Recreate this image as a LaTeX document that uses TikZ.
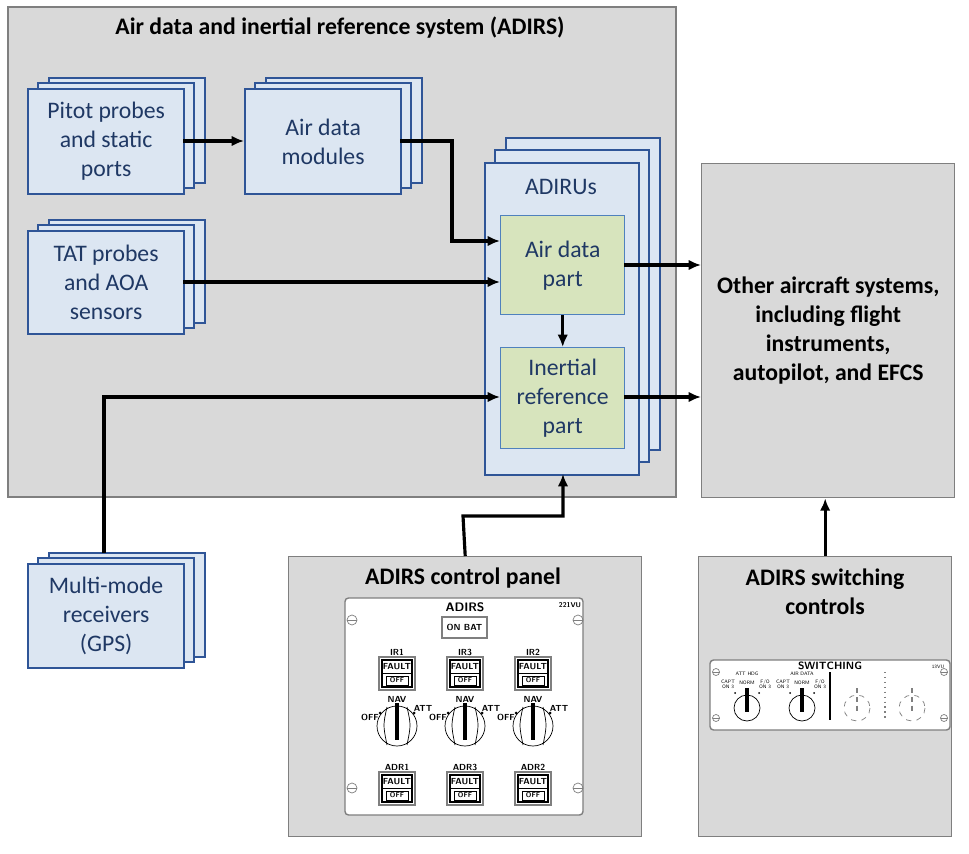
\documentclass[tikz,border=0pt]{standalone}
\usepackage{fontspec}
\setmainfont{Carlito}
\usetikzlibrary{arrows.meta,calc}
\definecolor{grayfill}{HTML}{D9D9D9}
\definecolor{grayline}{HTML}{7F7F7F}
\definecolor{bluefill}{HTML}{DCE6F2}
\definecolor{blueline}{HTML}{2F5597}
\definecolor{bluetext}{HTML}{1F3864}
\definecolor{greenfill}{HTML}{D7E4BD}
\definecolor{greenline}{HTML}{4F81BD}
\begin{document}
\begin{tikzpicture}[x=0.02cm,y=-0.02cm,
  graybox/.style={draw=grayline,fill=grayfill,line width=0.8pt},
  bluebox/.style={draw=blueline,fill=bluefill,line width=1.3pt},
  btxt/.style={text=bluetext,font=\fontsize{13.5}{16.5}\selectfont,align=center},
  greenbox/.style={draw=greenline,fill=greenfill,line width=0.8pt},
  ttl/.style={font=\bfseries\fontsize{13.5}{16.5}\selectfont,align=center},
  arr/.style={line width=1.8pt,-{Latex[length=7pt,width=6pt]}},
  pnl/.style={font=\sffamily\bfseries\fontsize{4}{4}\selectfont,inner sep=0pt},
  tny/.style={font=\sffamily\fontsize{2.8}{3}\selectfont,inner sep=0pt,align=center},
  plate/.style={draw=grayline,fill=white,line width=0.8pt}]
\useasboundingbox (0,0) rectangle (969,854);
\fill[white] (0,0) rectangle (969,854);
% ADIRS outer
\draw[graybox] (8,7) rectangle (676,497);
\node[ttl] (adirst) at (340,28) {Air data and inertial reference system (ADIRS)};
% stacks
\foreach \x/\y/\w/\h in {27/88/156/105, 244/88/156/105, 27/230/156/103}{
  \draw[bluebox] (\x+22,\y-10) rectangle ++(\w,\h);
  \draw[bluebox] (\x+11,\y-5) rectangle ++(\w,\h);
}
\draw[bluebox] (27,563) ++(22,-10) rectangle ++(156,104);
\draw[bluebox] (27,563) ++(11,-5) rectangle ++(156,104);
\node[bluebox,btxt,minimum width=156*0.02cm,minimum height=105*0.02cm,anchor=north west] (pitot) at (27,88) {Pitot probes\\and static\\ports};
\node[bluebox,btxt,minimum width=156*0.02cm,minimum height=105*0.02cm,anchor=north west] (adm) at (244,88) {Air data\\modules};
\node[bluebox,btxt,minimum width=156*0.02cm,minimum height=103*0.02cm,anchor=north west] (tat) at (27,230) {TAT probes\\and AOA\\sensors};
\node[bluebox,btxt,minimum width=156*0.02cm,minimum height=104*0.02cm,anchor=north west] (mmr) at (27,563) {Multi-mode\\receivers\\(GPS)};
% ADIRUs
\draw[bluebox] (506,138) rectangle (660,450);
\draw[bluebox] (495,150) rectangle (649,462);
\node[bluebox,minimum width=154*0.02cm,minimum height=312*0.02cm,anchor=north west] (adiru) at (484,162) {};
\node[btxt] (adirut) at (561,187) {ADIRUs};
\node[greenbox,btxt,minimum width=124*0.02cm,minimum height=99*0.02cm,anchor=north west] (adp) at (500,215) {Air data\\part};
\node[greenbox,btxt,minimum width=124*0.02cm,minimum height=101*0.02cm,anchor=north west] (irp) at (500,347) {Inertial\\reference\\part};
% other systems
\node[graybox,ttl,minimum width=253*0.02cm,minimum height=334*0.02cm,anchor=north west] (other) at (701,163) {Other aircraft systems,\\including flight\\instruments,\\autopilot, and EFCS};
% panels
\node[graybox,minimum width=353*0.02cm,minimum height=280*0.02cm,anchor=north west] (cp) at (288,556) {};
\node[ttl] (cpt) at (463,578) {ADIRS control panel};
\node[graybox,minimum width=253*0.02cm,minimum height=280*0.02cm,anchor=north west] (sw) at (698,556) {};
\node[ttl] (swt) at (825,592) {ADIRS switching\\controls};
% arrows
\coordinate (a1) at (183,141);
\coordinate (a2) at (400,141);
\coordinate (a3) at (183,282);
\draw[arr] (a1) -- (a1 -| adm.west);
\draw[arr] (a2) -- (452,141) -- (452,241) -- (500,241);
\draw[arr] (a3) -- (a3 -| adp.west);
\draw[arr] (adp.south) -- (irp.north);
\draw[arr] (624,265) -- (701,265);
\draw[arr] (624,397) -- (701,397);
\draw[arr] (104,553) -- (104,397) -- (500,397);
\draw[arr] (cp.north) -- (463,516) -- (563,516) -- (563,474);
\draw[arr] (sw.north) -- (other.south -| sw.north);
% control panel drawing
\draw[plate,rounded corners=2pt] (345,598) rectangle (583,815);
\foreach \px/\py in {352/620,352/788,578/620,578/788}{
  \draw[grayline,line width=0.4pt] (\px,\py) circle (5);
  \draw[grayline,line width=0.4pt] (\px-5,\py) -- (\px+5,\py);}
\node[pnl,font=\sffamily\bfseries\fontsize{7}{7}\selectfont] (pa) at (465,607) {ADIRS};
\node[pnl] (pv) at (570,605) {221VU};
\draw[grayline,line width=1.2pt] (442,617) rectangle (487,638);
\node[pnl,font=\sffamily\bfseries\fontsize{5}{5}\selectfont] (pb) at (464.5,627.5) {ON BAT};
\foreach \cx/\ir/\adr in {397/IR1/ADR1,465/IR3/ADR3,533/IR2/ADR2}{
  \node[pnl,font=\sffamily\bfseries\fontsize{5}{5}\selectfont] at (\cx,652) {\ir};
  \node[pnl,font=\sffamily\bfseries\fontsize{5}{5}\selectfont] at (\cx,767) {\adr};
  \foreach \by in {657,772}{
    \draw[grayline,line width=1pt] (\cx-18,\by) rectangle (\cx+18,\by+33);
    \draw[black,line width=0.6pt] (\cx-15,\by+3) rectangle (\cx+15,\by+30);
    \draw[black,line width=0.5pt] (\cx-15,\by+16) -- (\cx+15,\by+16);
    \draw[black,line width=0.4pt] (\cx-11,\by+19) rectangle (\cx+11,\by+28);
    \node[pnl,font=\sffamily\bfseries\fontsize{5}{5}\selectfont] at (\cx,\by+10) {FAULT};
    \node[pnl] at (\cx,\by+23.5) {OFF};}
  \draw[line width=0.4pt] (\cx,726) circle (20);
  \draw[line width=0.4pt] (\cx-10,745) .. controls (\cx-14,725) .. (\cx-10,707);
  \draw[line width=0.4pt] (\cx+10,745) .. controls (\cx+14,725) .. (\cx+10,707);
  \draw[line width=2.5pt] (\cx,703) -- (\cx,740);
  \fill (\cx-17,713) circle (1.5) (\cx+17,713) circle (1.5);
  \node[pnl,font=\sffamily\bfseries\fontsize{5}{5}\selectfont] at (\cx,699) {NAV};
  \node[pnl,font=\sffamily\bfseries\fontsize{5}{5}\selectfont] at (\cx-27,717) {OFF};
  \node[pnl,font=\sffamily\bfseries\fontsize{5}{5}\selectfont] at (\cx+26,708) {ATT};
}
% switching drawing
\draw[plate,rounded corners=2pt] (710,660) rectangle (950,730);
\foreach \px/\py in {716/672,716/718,944/672,944/718}{
  \draw[grayline,line width=0.4pt] (\px,\py) circle (3.5);
  \draw[grayline,line width=0.4pt] (\px-3.5,\py) -- (\px+3.5,\py);}
\node[pnl,font=\sffamily\bfseries\fontsize{6}{6}\selectfont] (swp) at (830,666) {SWITCHING};
\node[tny] at (938,667) {13VU};
\foreach \cx/\lab in {747/ATT HDG,802/AIR DATA}{
  \node[tny] at (\cx,674) {\lab};
  \node[tny] at (\cx,683) {NORM};
  \node[tny] at (\cx-19,684) {CAPT\\ON 3};
  \node[tny] at (\cx+18,684) {F/O\\ON 3};
  \draw[line width=0.4pt] (\cx,708) circle (13);
  \draw[line width=1.8pt] (\cx,688) -- (\cx,712);
  \fill (\cx-12,693) circle (1) (\cx+12,693) circle (1);
}
\foreach \cx in {857,912}{
  \draw[gray,dashed,line width=0.4pt] (\cx,708) circle (13);
  \draw[gray,densely dashed,line width=1.5pt] (\cx,688) -- (\cx,714);
}
\draw[line width=0.8pt] (830,672) -- (830,720);
\draw[gray,dotted,line width=0.8pt] (885,672) -- (885,720);
\end{tikzpicture}
\end{document}
